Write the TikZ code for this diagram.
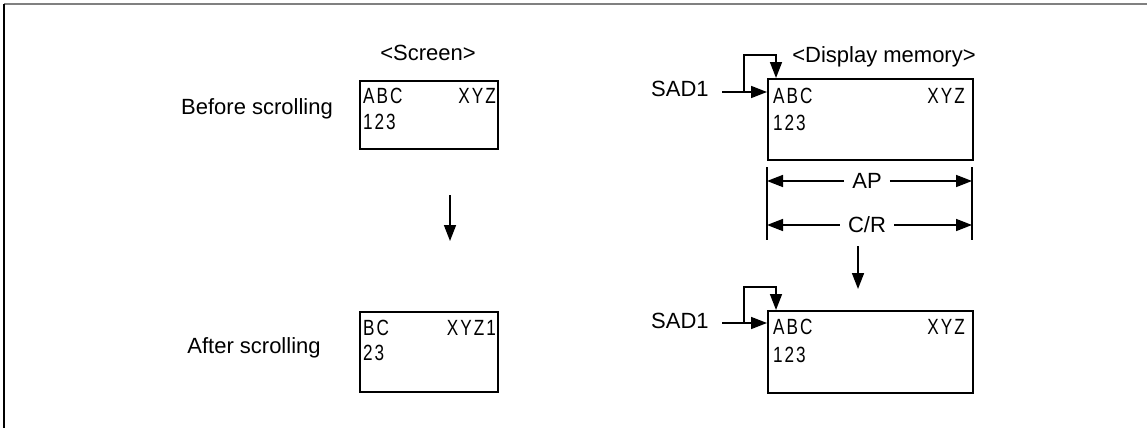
\documentclass[tikz,border=0pt]{standalone}
\usepackage{fontspec}
\setmainfont{Liberation Sans}
\newfontfamily\boxfont[FakeStretch=0.78,LetterSpace=9]{Liberation Sans}
\usetikzlibrary{arrows.meta}
\begin{document}
\begin{tikzpicture}[x=1pt,y=-1pt,
  lbl/.style={font=\fontsize{22}{26}\selectfont, inner sep=0pt},
  boxtxt/.style={font=\boxfont\fontsize{22}{26}\selectfont, inner sep=0pt, anchor=base west},
  memframe/.style={draw, line width=1.8pt, inner sep=0pt, anchor=north west},
  conn/.style={line width=1.6pt},
  arr/.style={conn, -{Triangle[length=16pt,width=12pt]}},
  tick/.style={line width=1.6pt}]
\useasboundingbox (0,0) rectangle (1147,428);
% outer frame
\draw[gray, line width=2pt] (4,4) -- (1147,4);
\draw[black, line width=2pt] (4,4) -- (4,428);
% titles
\node[lbl, anchor=base] (scrT) at (428,60) {<Screen>};
\node[lbl, anchor=base] (memT) at (884,63) {<Display memory>};
\node[lbl, anchor=base] (before) at (257,114) {Before scrolling};
\node[lbl, anchor=base] (after) at (254,353) {After scrolling};
% screen boxes
\node[memframe, minimum width=138pt, minimum height=68pt] (s1) at (359,80) {};
\node[boxtxt] (s1a) at (363,103) {ABC};
\node[boxtxt] (s1b) at (363,129) {123};
\node[boxtxt, anchor=base east] (s1c) at (496,103) {XYZ};
\node[memframe, minimum width=138pt, minimum height=80pt] (s2) at (359,311) {};
\node[boxtxt] (s2a) at (363,335) {BC};
\node[boxtxt] (s2b) at (363,360) {23};
\node[boxtxt, anchor=base east] (s2c) at (496,335) {XYZ1};
% screen arrow
\coordinate (sa1) at (450,195);
\coordinate (sa2) at (450,241);
\draw[arr] (sa1) -- (sa2);
% display memory boxes
\node[memframe, minimum width=205pt, minimum height=81pt] (m1) at (767,78) {};
\node[boxtxt] (m1a) at (773,103) {ABC};
\node[boxtxt] (m1b) at (773,130) {123};
\node[boxtxt, anchor=base east] (m1c) at (965,103) {XYZ};
\node[memframe, minimum width=205pt, minimum height=82pt] (m2) at (767,310) {};
\node[boxtxt] (m2a) at (773,334) {ABC};
\node[boxtxt] (m2b) at (773,362) {123};
\node[boxtxt, anchor=base east] (m2c) at (965,334) {XYZ};
% SAD1 top
\node[lbl, anchor=base west] (sad1) at (651,96) {SAD1};
\coordinate (p1) at (722,92);
\coordinate (b1) at (744,92);
\draw[arr] (p1) -- (m1.west |- p1);
\draw[arr] (b1) -- (744,55) -- (776,55) -- (776,78);
% SAD1 bottom
\node[lbl, anchor=base west] (sad2) at (651,328) {SAD1};
\coordinate (p2) at (722,323);
\coordinate (b2) at (744,323);
\draw[arr] (p2) -- (m2.west |- p2);
\draw[arr] (b2) -- (744,287) -- (776,287) -- (776,310);
% dimension lines
\coordinate (dL1) at (767,167); \coordinate (dL2) at (767,240);
\coordinate (dR1) at (972,167); \coordinate (dR2) at (972,240);
\draw[tick] (dL1) -- (dL2);
\draw[tick] (dR1) -- (dR2);
\node[lbl, fill=white, inner xsep=8pt] (ap) at (867,181) {AP};
\node[lbl, fill=white, inner xsep=8pt] (cr) at (867,225) {C/R};
\draw[arr] (ap.west) -- (dL1 |- ap.west);
\draw[arr] (ap.east) -- (dR1 |- ap.east);
\draw[arr] (cr.west) -- (dL1 |- cr.west);
\draw[arr] (cr.east) -- (dR1 |- cr.east);
% display arrow
\coordinate (ma1) at (858,246);
\coordinate (ma2) at (858,289);
\draw[arr] (ma1) -- (ma2);
\end{tikzpicture}
\end{document}
